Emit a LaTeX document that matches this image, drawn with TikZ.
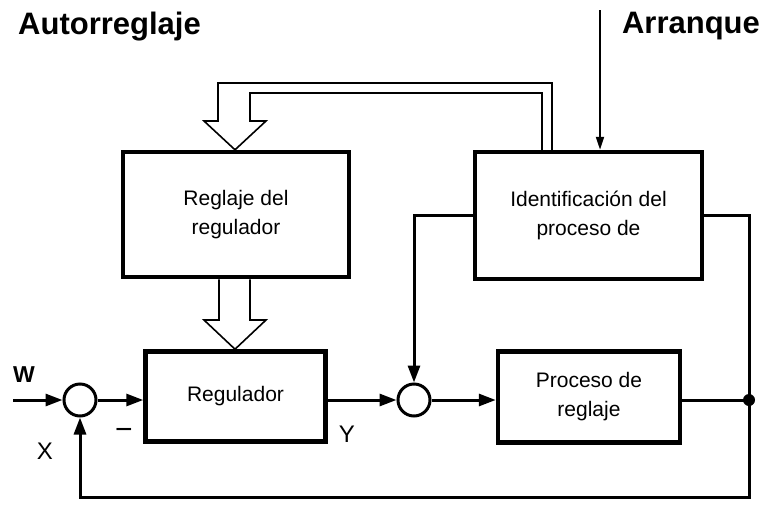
\documentclass[tikz,border=0pt]{standalone}
\usepackage{fontspec}
\setmainfont{Liberation Sans}
\usetikzlibrary{arrows.meta,calc}
\begin{document}
\begin{tikzpicture}[x=1pt,y=-1pt,
  blk/.style={draw,line width=4.5pt,inner sep=0pt,align=center,font=\fontsize{21}{29}\selectfont},
  sumc/.style={draw,circle,line width=3pt,minimum size=32pt,inner sep=0pt},
  conn/.style={line width=3pt},
  arr/.style={conn,-{Triangle[length=17pt,width=12pt]}},
  thinarr/.style={line width=2pt,-{Triangle[length=13pt,width=8pt]}},
  hollow/.style={line width=1.6pt,line join=miter},
  lbl/.style={font=\fontsize{24}{24}\selectfont,inner sep=0pt},
  hdr/.style={font=\fontsize{31}{31}\selectfont\bfseries,inner sep=0pt,anchor=base}]
\useasboundingbox (0,0) rectangle (774,509);
% headers
\node[hdr] (autor) at (109.5,34) {Autorreglaje};
\node[hdr] (arranque) at (691,33) {Arranque};
% blocks
\node[blk,minimum width=226pt,minimum height=125pt] (regl) at (236,214.5) {Reglaje del\\regulador};
\node[blk,minimum width=227pt,minimum height=127pt] (ident) at (588.5,215.5) {Identificación del\\proceso de};
\node[blk,minimum width=180pt,minimum height=90pt] (reg) at (235.5,396.5) {Regulador};
\node[blk,minimum width=182pt,minimum height=91pt] (proc) at (589,397) {Proceso de\\reglaje};
% summing points
\node[sumc] (sum1) at (80,400) {};
\node[sumc] (sum2) at (414,400) {};
% coordinates
\coordinate (win) at (13,400);
\coordinate (arrtop) at (600,10);
\coordinate (dot) at (749,400);
\coordinate (corner) at (749,497);
% labels
\node[lbl,font=\fontsize{23}{23}\selectfont\bfseries] (wl) at (24,375) {W};
\node[lbl] (xl) at (45,451) {X};
\node[lbl] (yl) at (347,434.5) {Y};
\node[lbl,font=\fontsize{30}{30}\selectfont] (minus) at (124,434) {−};
% main connectors
\draw[arr] (win) -- (sum1.west);
\draw[arr] (sum1.east) -- (sum1.east -| reg.west);
\draw[arr] (sum2.west -| reg.east) -- (sum2.west);
\draw[arr] (sum2.east) -- (sum2.east -| proc.west);
\draw[conn] (dot -| proc.east) -- (dot);
\draw[arr] (ident.west) -| (sum2.north);
\draw[conn] (ident.east) -| (dot);
\draw[arr] (dot) -- (corner) -| (sum1.south);
\fill (dot) circle (6pt);
\draw[thinarr] (arrtop) -- (arrtop |- ident.north);
% hollow arrow from identification to reglaje
\draw[hollow] (552,149.8) -- (552,83) -- (218,83) -- (218,121) -- (204,121)
  -- (235,149.8) -- (266,121) -- (250,121) -- (250,93) -- (542,93) -- (542,149.8);
% hollow arrow from reglaje to regulador
\draw[hollow] (219,279.3) -- (219,320) -- (204,320) -- (235,349.2) -- (266,320)
  -- (250,320) -- (250,279.3);
\end{tikzpicture}
\end{document}
